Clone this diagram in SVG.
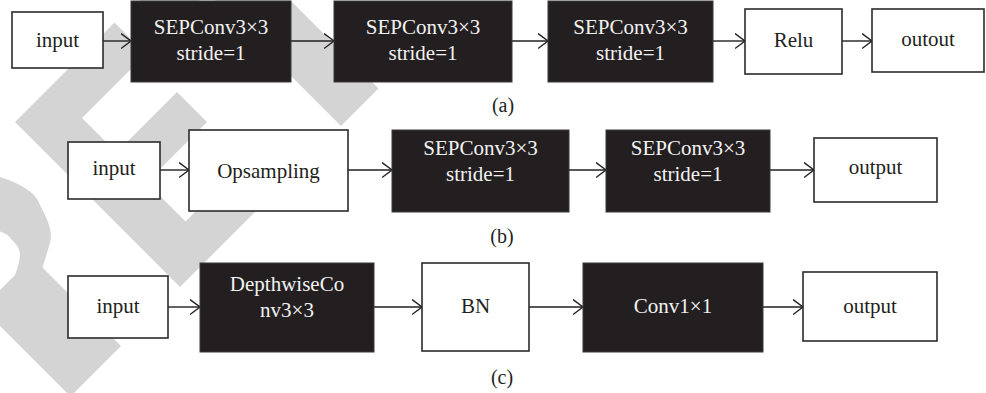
<svg xmlns="http://www.w3.org/2000/svg" width="986" height="393" viewBox="0 0 986 393">
<style>
.wm{fill:#d4d4d4;stroke:none}
.wb{fill:#ffffff;stroke:#2b2b2b;stroke-width:1.6}
.bb{fill:#231f20;stroke:#3a3a3a;stroke-width:1}
.t{font-family:"Liberation Serif","Times New Roman",serif;font-size:21px;text-anchor:middle}
.tw{fill:#f2f2f2}
.tb{fill:#231f20}
.lab{font-family:"Liberation Serif","Times New Roman",serif;font-size:20px;text-anchor:middle;fill:#231f20}
.c{stroke:#231f20;stroke-width:1.4;fill:none;marker-end:url(#ah)}
</style>
<defs>
<marker id="ah" markerUnits="userSpaceOnUse" markerWidth="12" markerHeight="18" refX="10.5" refY="8" orient="auto">
<path d="M0.5,0.5 L10.5,8 L0.5,15.5" fill="none" stroke="#231f20" stroke-width="1.4"/>
</marker>
</defs>
<rect x="0" y="0" width="986" height="393" fill="#ffffff"/>
<g id="watermark">
<polygon class="wm" points="15,122 114.5,22.5 146,54 82,118 116.5,152.5 177,92 207,122 146.5,182.5 185.5,221.5 248.5,158.5 278.5,188.5 180,287"/>
<polygon class="wm" points="138.5,-1.5 251,-114 282.5,-82.5 245,-45 378.5,88.5 341,126 207.5,-7.5 170,30"/>
<path class="wm" d="M-60,160 L-41.5,178.5 C-20,170 -8,172 0,177 C25,185 37,195 40,205 C48,220 53,232 50,243 L42.5,267.5 L121,346 L70.5,396.5 L-94.5,231.5 Z M-5,230 C3,232 9,235 11,239 C17,244 20,250 20,255 C19,264 17,270 15,275 L-5,295 L-37.5,262.5 Z" fill-rule="evenodd"/>
</g>
<g id="connectors">
<line class="c" x1="103" y1="41" x2="131" y2="41"/>
<line class="c" x1="291" y1="41" x2="334" y2="41"/>
<line class="c" x1="512" y1="41" x2="548" y2="41"/>
<line class="c" x1="713" y1="41" x2="745" y2="41"/>
<line class="c" x1="842" y1="41" x2="872" y2="41"/>
<line class="c" x1="160" y1="170" x2="189" y2="170"/>
<line class="c" x1="348" y1="170" x2="392" y2="170"/>
<line class="c" x1="569" y1="170" x2="606" y2="170"/>
<line class="c" x1="770" y1="170" x2="814" y2="170"/>
<line class="c" x1="168" y1="307" x2="200" y2="307"/>
<line class="c" x1="374" y1="307" x2="422" y2="307"/>
<line class="c" x1="529" y1="307" x2="583" y2="307"/>
<line class="c" x1="763" y1="307" x2="803" y2="307"/>
</g>
<g id="a_input"><rect class="wb" x="12" y="12" width="91" height="56"/><text class="t tb" x="57.5" y="47">input</text></g>
<g id="a_sep1"><rect class="bb" x="131" y="1" width="160" height="81"/><text class="t tw" x="211" y="34">SEPConv3×3</text><text class="t tw" x="211" y="60">stride=1</text></g>
<g id="a_sep2"><rect class="bb" x="334" y="1" width="178" height="81"/><text class="t tw" x="423" y="34">SEPConv3×3</text><text class="t tw" x="423" y="60">stride=1</text></g>
<g id="a_sep3"><rect class="bb" x="548" y="1" width="165" height="81"/><text class="t tw" x="630.5" y="34">SEPConv3×3</text><text class="t tw" x="630.5" y="60">stride=1</text></g>
<g id="a_relu"><rect class="wb" x="745" y="9" width="97" height="65"/><text class="t tb" x="793.5" y="47">Relu</text></g>
<g id="a_out"><rect class="wb" x="872" y="9" width="112" height="63"/><text class="t tb" x="928" y="46">outout</text></g>
<text class="lab" x="503" y="112">(a)</text>
<g id="b_input"><rect class="wb" x="68" y="142" width="92" height="57"/><text class="t tb" x="114" y="175">input</text></g>
<g id="b_ops"><rect class="wb" x="189" y="130" width="159" height="81"/><text class="t tb" x="268.5" y="178">Opsampling</text></g>
<g id="b_sep1"><rect class="bb" x="392" y="130" width="177" height="82"/><text class="t tw" x="480.5" y="155">SEPConv3×3</text><text class="t tw" x="480.5" y="181">stride=1</text></g>
<g id="b_sep2"><rect class="bb" x="606" y="130" width="164" height="82"/><text class="t tw" x="688" y="155">SEPConv3×3</text><text class="t tw" x="688" y="181">stride=1</text></g>
<g id="b_out"><rect class="wb" x="814" y="138" width="123" height="64"/><text class="t tb" x="875.5" y="174">output</text></g>
<text class="lab" x="502" y="243">(b)</text>
<g id="c_input"><rect class="wb" x="68" y="276" width="100" height="62"/><text class="t tb" x="118" y="313">input</text></g>
<g id="c_dw"><rect class="bb" x="200" y="263" width="174" height="89"/><text class="t tw" x="287" y="291">DepthwiseCo</text><text class="t tw" x="287" y="317">nv3×3</text></g>
<g id="c_bn"><rect class="wb" x="422" y="263" width="107" height="88"/><text class="t tb" x="475.5" y="313">BN</text></g>
<g id="c_conv"><rect class="bb" x="583" y="263" width="180" height="89"/><text class="t tw" x="673" y="313">Conv1×1</text></g>
<g id="c_out"><rect class="wb" x="803" y="272" width="134" height="69"/><text class="t tb" x="870" y="313">output</text></g>
<text class="lab" x="502" y="384">(c)</text>
</svg>
